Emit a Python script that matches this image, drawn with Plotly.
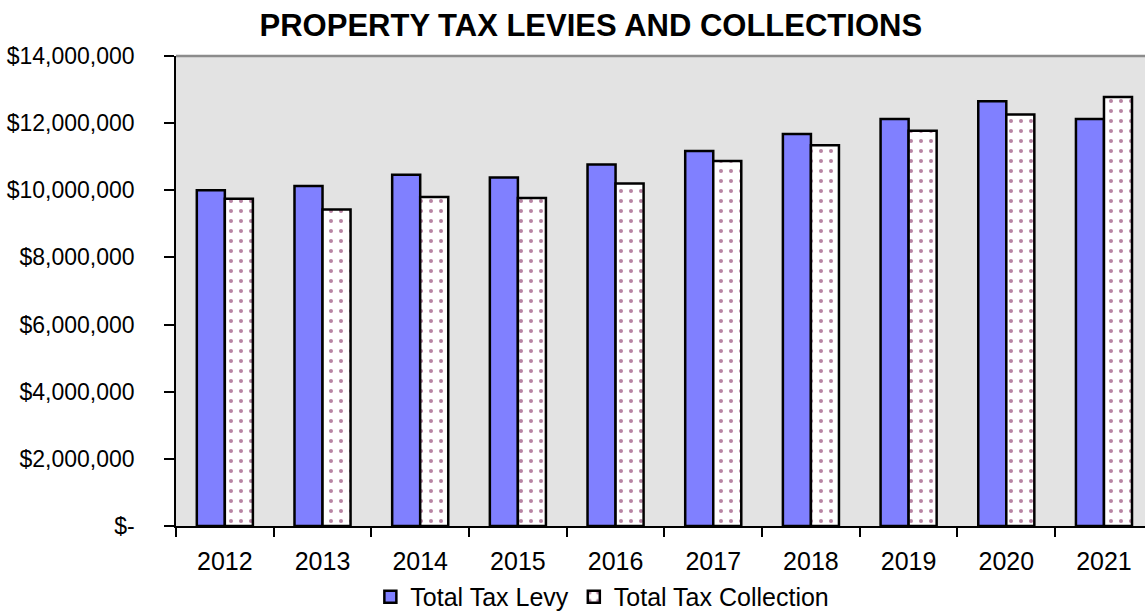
import plotly.graph_objects as go

# Fiscal years and property tax figures (dollars)
years = ["2012", "2013", "2014", "2015", "2016", "2017", "2018", "2019", "2020", "2021"]
total_tax_levy = [10000000, 10130000, 10460000, 10380000, 10770000, 11170000, 11680000, 12120000, 12650000, 12120000]
total_tax_collection = [9750000, 9430000, 9800000, 9770000, 10200000, 10870000, 11340000, 11770000, 12260000, 12780000]

# Y axis ticks in accounting style
y_tick_values = [0, 2000000, 4000000, 6000000, 8000000, 10000000, 12000000, 14000000]
y_tick_text = ["$-", "$2,000,000", "$4,000,000", "$6,000,000", "$8,000,000",
               "$10,000,000", "$12,000,000", "$14,000,000"]

FONT = "Liberation Sans, Arial, sans-serif"

fig = go.Figure()
fig.add_trace(go.Bar(
    name="Total Tax Levy",
    x=years, y=total_tax_levy,
    marker=dict(color="#8080FF", line=dict(color="black", width=2.5)),
))
fig.add_trace(go.Bar(
    name="Total Tax Collection",
    x=years, y=total_tax_collection,
    marker=dict(
        color="white",
        line=dict(color="black", width=2.5),
        pattern=dict(shape=".", fgcolor="#700A48", bgcolor="white",
                     size=10, solidity=0.13, fillmode="overlay"),
    ),
))

fig.update_layout(
    width=1145, height=611,
    margin=dict(l=176, r=0, t=56, b=85, autoexpand=False),
    paper_bgcolor="white",
    plot_bgcolor="#E3E3E3",
    barmode="group",
    bargap=0.426,
    bargroupgap=0,
    font=dict(family=FONT, size=24, color="black"),
    title=dict(
        text="<b>PROPERTY TAX LEVIES AND COLLECTIONS</b>",
        x=0.516, xanchor="center", y=0.959, yanchor="middle",
        font=dict(family=FONT, size=31, color="black"),
    ),
    showlegend=True,
    legend=dict(
        orientation="h", x=0.44, xanchor="center",
        yref="container", y=0.023, yanchor="middle",
        font=dict(family=FONT, size=25), bgcolor="rgba(0,0,0,0)",
        itemwidth=30, tracegroupgap=0,
    ),
    xaxis=dict(
        type="category",
        range=[-0.5, 9.42],
        automargin=False,
        showline=True, linecolor="black", linewidth=1.5,
        ticks="outside", tickson="boundaries", ticklen=9, tickcolor="black", tickwidth=1.5,
        showgrid=False, zeroline=False,
        tickfont=dict(family=FONT, size=25),
        ticklabelstandoff=12,
    ),
    yaxis=dict(
        range=[0, 14000000],
        automargin=False,
        tickvals=y_tick_values, ticktext=y_tick_text,
        showline=True, linecolor="black", linewidth=1.5,
        ticks="outside", ticklen=10, tickcolor="black", tickwidth=1.5,
        showgrid=False, zeroline=False,
        tickfont=dict(family=FONT, size=23),
        ticklabelstandoff=25,
    ),
    shapes=[dict(type="line", xref="paper", yref="paper", x0=0, x1=1, y0=1, y1=1,
                 line=dict(color="#8C8C8C", width=2.5))],
)

fig.write_html("out.html")
